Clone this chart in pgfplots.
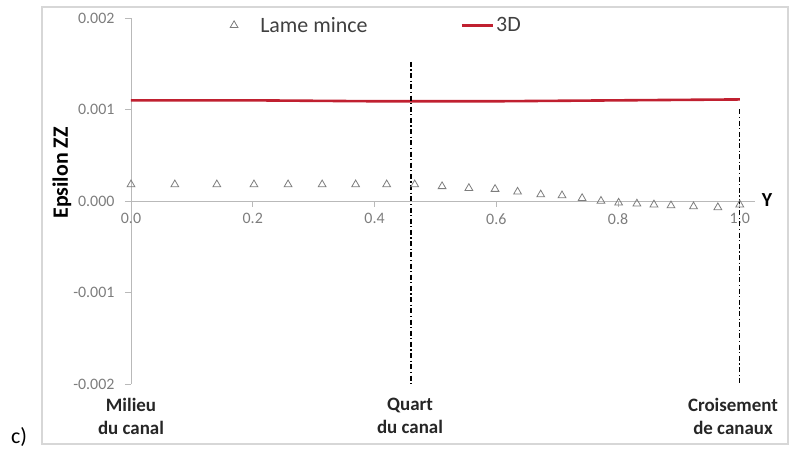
\documentclass[border=0pt]{standalone}
\usepackage{pgfplots}
\pgfplotsset{compat=1.18}
\usepackage{fontspec}
\setmainfont{Carlito}
\definecolor{redline}{RGB}{192,32,48}
\definecolor{axgray}{RGB}{185,185,185}
\definecolor{tickgray}{RGB}{125,125,125}
\definecolor{framegray}{RGB}{215,215,215}
\pgfplotsset{
  mytrileg/.style={legend image code/.code={\draw[##1] plot coordinates {(0bp,0bp)}; \path (24bp,0bp);}},
  mylineleg/.style={legend image code/.code={\draw[##1] (0bp,0bp) -- (31bp,0bp);}},
}
\begin{document}
\begin{tikzpicture}
\useasboundingbox (-131bp,-66bp) rectangle (659bp,384bp);
\draw[framegray, line width=1.2bp] (-89bp,-60bp) rectangle (657bp,377bp);
\begin{axis}[
 scale only axis, width=624bp, height=366bp,
 xmin=0, xmax=1.025, ymin=-0.002, ymax=0.002,
 axis lines=middle, axis line style={-, axgray, line width=0.8bp},
 hide obscured x ticks=false, hide obscured y ticks=false,
 xtick={0,0.2,0.4,0.6,0.8,1.0}, xticklabels={0.0,0.2,0.4,0.6,0.8,1.0},
 ytick={-0.002,-0.001,0,0.001,0.002}, yticklabels={-0.002,-0.001,0.000,0.001,0.002},
 tick align=outside, major tick length=6bp, tick style={axgray, line width=0.8bp},
 ticklabel style={font=\fontsize{16}{18}\selectfont, text=tickgray},
 xticklabel style={yshift=-3bp},
 yticklabel style={xshift=-7bp},
 scaled y ticks=false,
 clip=false,
 legend columns=2,
 legend style={draw=none, fill=none, at={(axis cs:0.1626,0.00192)}, anchor=west,
   font=\fontsize{22}{26}\selectfont, text=black!75, inner xsep=0pt, inner ysep=0pt,
   /tikz/every even column/.append style={column sep=91bp}},
]
\addplot[only marks, mark=triangle, mark size=4.5bp, color=tickgray, mark options={draw=tickgray, line width=0.8bp}, mytrileg]
coordinates {
(0.000,0.00018) (0.072,0.00018) (0.141,0.00018) (0.202,0.00018) (0.258,0.00018)
(0.314,0.00018) (0.369,0.00018) (0.420,0.00018) (0.466,0.00018) (0.511,0.00016)
(0.555,0.00014) (0.598,0.00013) (0.635,0.00010) (0.673,0.00007) (0.708,0.00006)
(0.741,0.00003) (0.772,0.00000) (0.801,-0.00002) (0.831,-0.00003) (0.859,-0.00004)
(0.887,-0.00005) (0.924,-0.00006) (0.964,-0.00007) (1.000,-0.00004)
};
\addlegendentry{Lame mince}
\addplot[redline, line width=2.6bp, mylineleg]
coordinates {(0,0.00110) (0.2,0.00110) (0.4,0.00109) (0.6,0.00109) (0.8,0.00110) (1.0,0.00111)};
\addlegendentry{3D}
\addplot[black, line width=1.3bp, dash pattern=on 5bp off 2.5bp on 1.2bp off 2.5bp, forget plot]
coordinates {(0.46,0.00152) (0.46,-0.002)};
\addplot[black, line width=1.3bp, dash pattern=on 5bp off 2.5bp on 1.2bp off 2.5bp, forget plot]
coordinates {(1.0,0.00100) (1.0,-0.002)};
\end{axis}
\node[rotate=90, font=\bfseries\fontsize{22}{26}\selectfont] at (-69bp,211bp) {Epsilon ZZ};
\node[font=\bfseries\fontsize{20}{24}\selectfont] at (636bp,184bp) {Y};
\node[font=\fontsize{22}{26}\selectfont] at (-112bp,-53bp) {c)};
\node[align=center, font=\bfseries\fontsize{19}{23}\selectfont, text=black!85] at (0bp,-32bp) {Milieu\\du canal};
\node[align=center, font=\bfseries\fontsize{19}{23}\selectfont, text=black!85] at (279bp,-32bp) {Quart\\du canal};
\node[align=center, font=\bfseries\fontsize{19}{23}\selectfont, text=black!85] at (602bp,-32bp) {Croisement\\de canaux};
\end{tikzpicture}
\end{document}
